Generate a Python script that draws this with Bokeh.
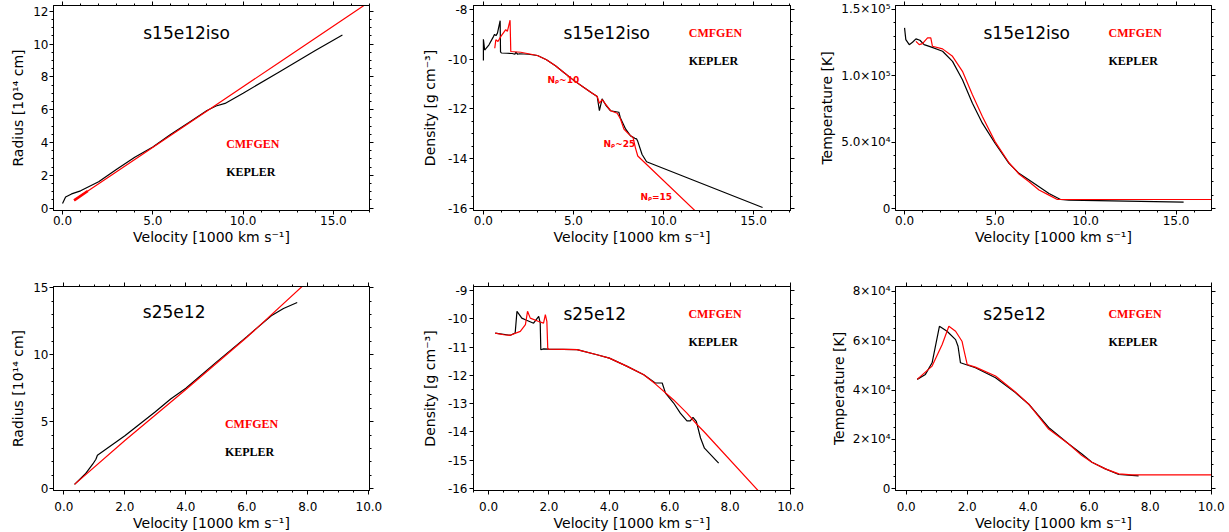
from bokeh.plotting import figure
from bokeh.models import Range1d, SingleIntervalTicker, LinearAxis, PrintfTickFormatter, Label, CustomJSTickFormatter
from bokeh.layouts import row, column
from bokeh.embed import file_html
from bokeh.resources import INLINE

# ---------------- data ----------------
# Panel 1: radius, s15e12iso
rad15_kep_v = [0.0, 0.17, 0.5, 1.0, 2.0, 3.0, 4.0, 5.0, 6.0, 7.0, 8.0, 8.5, 9.0, 10.0, 12.0, 14.0, 15.5]
rad15_kep_r = [0.27, 0.67, 0.86, 1.05, 1.6, 2.36, 3.1, 3.72, 4.5, 5.22, 5.95, 6.22, 6.38, 7.0, 8.3, 9.6, 10.55]
rad15_cmf_v = [0.64, 4.0, 8.0, 12.0, 16.8]
rad15_cmf_r = [0.47, 2.96, 5.92, 8.88, 12.43]
rad15_cmf_thick_v = [0.64, 1.4]
rad15_cmf_thick_r = [0.47, 1.04]

# Panel 2: density, s15e12iso
den15_kep_v = [0.0, 0.0, 0.07, 0.31, 0.55, 0.62, 0.7, 0.78, 0.93, 0.95, 1.0, 1.3, 1.6, 1.75, 1.8, 1.9,
               2.0, 2.5, 3.0, 3.5, 4.0, 4.5, 5.0, 5.5, 6.0, 6.32, 6.44, 6.59, 6.8, 7.06, 7.52, 7.6,
               7.9, 8.17, 8.41, 8.5, 8.57, 8.81, 9.06, 15.5]
den15_kep_d = [-10.05, -9.2, -9.63, -9.42, -9.1, -9.0, -9.05, -8.95, -8.45, -9.7, -9.75, -9.76, -9.77, -9.8, -9.72, -9.8,
               -9.78, -9.8, -9.85, -10.02, -10.26, -10.55, -10.84, -11.1, -11.35, -11.5, -12.07, -11.59, -11.85, -12.07, -12.13, -12.35,
               -12.81, -13.08, -13.18, -13.2, -13.3, -13.83, -14.12, -15.96]
den15_cmf_v = [0.63, 0.69, 0.81, 0.96, 1.24, 1.33, 1.48, 1.52, 2.07, 2.5, 3.0, 3.5, 4.0, 4.5, 5.0, 5.5, 6.0,
               6.32, 6.44, 6.59, 7.06, 7.43, 7.61, 7.8, 8.07, 8.31, 8.44, 8.57, 12.2]
den15_cmf_d = [-9.56, -9.22, -9.29, -9.09, -8.81, -8.88, -8.43, -9.69, -9.72, -9.78, -9.85, -10.02, -10.26, -10.55, -10.84, -11.1, -11.35,
               -11.5, -11.77, -11.62, -12.07, -12.17, -12.4, -12.81, -13.01, -13.15, -13.56, -13.89, -16.4]

# Panel 3: temperature, s15e12iso
tem15_kep_v = [0.0, 0.07, 0.26, 0.44, 0.63, 0.85, 1.08, 1.45, 2.1, 2.65, 3.2, 3.75, 4.3, 5.0, 5.77, 6.32, 6.88,
               7.43, 7.98, 8.62, 9.08, 15.42]
tem15_kep_t = [136100, 127300, 123500, 125300, 127800, 126800, 123500, 121800, 118500, 110900, 97100, 79400, 64300,
               49200, 34000, 26500, 21400, 16400, 11300, 6800, 6300, 4800]
tem15_cmf_v = [0.63, 0.81, 0.99, 1.27, 1.45, 1.54, 2.1, 2.65, 3.2, 3.75, 4.3, 5.0, 5.77, 6.32, 6.88, 7.43, 7.98,
               8.44, 17.5]
tem15_cmf_t = [126000, 123500, 124300, 128600, 128600, 122300, 120300, 114700, 103400, 85700, 69300, 50400, 34500,
               26000, 20200, 13900, 10100, 6800, 6800]

# Panel 4: radius, s25e12
rad25_kep_v = [0.35, 0.7, 0.95, 1.05, 1.1, 2.0, 3.0, 3.5, 4.0, 5.0, 6.0, 6.8, 7.2, 7.65]
rad25_kep_r = [0.33, 1.1, 1.85, 2.2, 2.5, 3.95, 5.75, 6.7, 7.5, 9.45, 11.35, 12.9, 13.45, 13.9]
rad25_cmf_v = [0.35, 2.0, 4.0, 6.0, 8.1]
rad25_cmf_r = [0.33, 3.6, 7.4, 11.3, 15.7]

# Panel 5: density, s25e12
den25_kep_v = [0.22, 0.72, 0.88, 0.94, 1.1, 1.22, 1.49, 1.66, 1.71, 1.73, 1.82, 2.0, 2.93, 3.59, 4.0, 4.59, 5.14,
               5.52, 5.75, 5.86, 6.13, 6.35, 6.57, 6.68, 6.77, 6.88, 7.02, 7.15, 7.62]
den25_kep_d = [-10.5, -10.58, -10.5, -9.73, -9.97, -10.03, -10.15, -9.91, -10.15, -11.09, -11.06, -11.07, -11.09,
               -11.27, -11.39, -11.68, -11.98, -12.27, -12.27, -12.63, -12.98, -13.34, -13.61, -13.61, -13.49, -13.63,
               -14.22, -14.58, -15.11]
den25_cmf_v = [0.22, 0.5, 0.72, 1.05, 1.22, 1.29, 1.38, 1.66, 1.82, 1.88, 1.93, 1.96, 2.0, 2.93, 3.59, 4.0, 4.59,
               5.14, 5.52, 6.13, 6.57, 6.91, 7.13, 9.2]
den25_cmf_d = [-10.5, -10.56, -10.58, -10.44, -10.2, -9.73, -9.97, -10.09, -10.15, -9.85, -10.09, -11.06, -11.07,
               -11.09, -11.27, -11.39, -11.68, -11.98, -12.3, -12.87, -13.34, -13.75, -13.99, -16.4]

# Panel 6: temperature, s25e12
tem25_kep_v = [0.36, 0.63, 0.85, 1.09, 1.34, 1.62, 1.70, 1.78, 2.27, 2.93, 3.58, 4.02, 4.67, 5.33, 5.76, 6.09,
               6.53, 6.97, 7.62]
tem25_kep_t = [44350, 46370, 51070, 65860, 63840, 60480, 57790, 51070, 49060, 45020, 38980, 34270, 24860, 18140,
               14110, 10750, 8060, 5780, 5240]
tem25_cmf_v = [0.36, 0.85, 1.18, 1.40, 1.62, 1.83, 1.89, 2.0, 2.27, 2.93, 3.58, 4.02, 4.67, 5.33, 5.76, 6.09,
               6.53, 6.97, 7.4, 10.5]
tem25_cmf_t = [44350, 49730, 58460, 65860, 63840, 59810, 56450, 50400, 49330, 45700, 39250, 34270, 24190, 18140,
               13440, 10750, 8060, 6050, 5650, 5650]

# tick labels
temp15_ticks = {0: "0", 50000: "5.0×10⁴", 100000: "1.0×10⁵", 150000: "1.5×10⁵"}
temp25_ticks = {0: "0", 20000: "2×10⁴", 40000: "4×10⁴", 60000: "6×10⁴", 80000: "8×10⁴"}

x_title = "Velocity [1000 km s⁻¹]"
names = ["s15e12iso", "s25e12"]

RED = "#ff0000"
FONT = "DejaVu Sans"
MAJ, MIN = 4, 2


def make_fig(xr, yr, borders, fw, fh, xtick, ytick, xfmt, yfmt, ylabel,
             xl_standoff, yl_standoff, xlab_standoff, ylab_standoff, yoverrides=None):
    bl, br, bt, bb = borders
    p = figure(frame_width=fw, frame_height=fh,
               x_range=Range1d(*xr), y_range=Range1d(*yr),
               output_backend="svg", toolbar_location=None,
               min_border_left=bl, min_border_right=br,
               min_border_top=bt, min_border_bottom=bb,
               x_axis_location=None, y_axis_location=None)
    p.grid.visible = False
    p.background_fill_color = "white"
    p.border_fill_color = "white"
    p.outline_line_color = "black"
    p.outline_line_width = 1

    xt = SingleIntervalTicker(interval=xtick[0], num_minor_ticks=xtick[1])
    yt = SingleIntervalTicker(interval=ytick[0], num_minor_ticks=ytick[1])

    def style(ax, hidden=False):
        ax.axis_line_color = "black"
        ax.major_tick_line_color = "black"
        ax.minor_tick_line_color = "black"
        ax.major_tick_in = 0
        ax.major_tick_out = MAJ
        ax.minor_tick_in = 0
        ax.minor_tick_out = MIN
        ax.major_label_text_font = FONT
        ax.major_label_text_font_size = "12px"
        ax.major_label_text_color = "black"
        ax.axis_label_text_font = FONT
        ax.axis_label_text_font_size = "14px"
        ax.axis_label_text_font_style = "normal"
        ax.axis_label_text_color = "black"
        if hidden:
            ax.formatter = CustomJSTickFormatter(code="return ''")
            ax.major_label_standoff = 0
            ax.axis_label = None

    xb = LinearAxis(ticker=xt, formatter=xfmt, axis_label=x_title)
    style(xb)
    xb.major_label_standoff = xl_standoff
    xb.axis_label_standoff = xlab_standoff
    p.add_layout(xb, "below")

    yb = LinearAxis(ticker=yt, formatter=yfmt, axis_label=ylabel)
    style(yb)
    yb.major_label_standoff = yl_standoff
    yb.axis_label_standoff = ylab_standoff
    if yoverrides is not None:
        yb.major_label_overrides = yoverrides
    p.add_layout(yb, "left")

    xa = LinearAxis(ticker=xt)
    style(xa, hidden=True)
    p.add_layout(xa, "above")
    ya = LinearAxis(ticker=yt)
    style(ya, hidden=True)
    p.add_layout(ya, "right")
    return p


def add_labels(p, title_xy, cm_xy, kep_y, title):
    p.add_layout(Label(x=title_xy[0], y=title_xy[1], text=title, text_font=FONT,
                       text_font_size="17px", text_color="black", text_baseline="middle"))
    p.add_layout(Label(x=cm_xy[0], y=cm_xy[1], text="CMFGEN", text_font="Liberation Serif",
                       text_font_size="12px", text_font_style="bold", text_color=RED,
                       text_baseline="middle"))
    p.add_layout(Label(x=cm_xy[0], y=kep_y, text="KEPLER", text_font="Liberation Serif",
                       text_font_size="12px", text_font_style="bold", text_color="black",
                       text_baseline="middle"))


f1 = PrintfTickFormatter(format="%.1f")
fi = PrintfTickFormatter(format="%d")

top_b = [(53, 41, 5, 50), (63, 25, 5, 50), (80, 18, 5, 50)]
bot_b = [(53, 41, 26, 42), (63, 25, 26, 42), (80, 18, 26, 42)]

# ---- top row ----
p1 = make_fig((-0.5, 17.0), (-0.15, 12.35), top_b[0], 316, 205, (5, 5), (2, 4), f1, fi,
              "Radius [10¹⁴ cm]", 1, 1, 1, 4)
p1.line(rad15_kep_v, rad15_kep_r, color="black", line_width=1.2)
p1.line(rad15_cmf_v, rad15_cmf_r, color=RED, line_width=1.2)
p1.line(rad15_cmf_thick_v, rad15_cmf_thick_r, color=RED, line_width=2.6)
add_labels(p1, (4.47, 10.65), (9.06, 3.88), 2.18, names[0])

p2 = make_fig((-0.55, 17.05), (-16.08, -7.84), top_b[1], 317, 205, (5, 5), (2, 4), f1, fi,
              "Density [g cm⁻³]", 1, 2, 1, 7)
p2.line(den15_kep_v, den15_kep_d, color="black", line_width=1.2)
p2.line(den15_cmf_v, den15_cmf_d, color=RED, line_width=1.2)
add_labels(p2, (4.44, -8.93), (11.4, -8.93), -10.07, names[0])
for txt, xx, yy in [("Nᵨ~10", 3.56, -10.85), ("Nᵨ~25", 6.67, -13.4), ("Nᵨ=15", 8.72, -15.52)]:
    p2.add_layout(Label(x=xx, y=yy, text=txt, text_font=FONT, text_font_size="9px",
                        text_font_style="bold", text_color=RED, text_baseline="middle"))

p3 = make_fig((-0.5, 16.96), (-1500, 153000), top_b[2], 316, 205, (5, 5), (50000, 5), f1, fi,
              "Temperature [K]", 1, 1, 1, 3, yoverrides=temp15_ticks)
p3.line(tem15_kep_v, tem15_kep_t, color="black", line_width=1.2)
p3.line(tem15_cmf_v, tem15_cmf_t, color=RED, line_width=1.2)
add_labels(p3, (4.36, 132600), (11.27, 132600), 111400, names[0])

# ---- bottom row ----
p4 = make_fig((-0.34, 10.02), (-0.13, 15.09), bot_b[0], 316, 204, (2, 4), (5, 5), f1, fi,
              "Radius [10¹⁴ cm]", 7, 1, 1, 4)
p4.line(rad25_kep_v, rad25_kep_r, color="black", line_width=1.2)
p4.line(rad25_cmf_v, rad25_cmf_r, color=RED, line_width=1.2)
add_labels(p4, (2.59, 13.2), (5.28, 4.85), 2.74, names[1])

p5 = make_fig((-0.5, 10.0), (-16.08, -8.85), bot_b[1], 317, 204, (2, 4), (1, 2), f1, fi,
              "Density [g cm⁻³]", 7, 2, 1, 7)
p5.line(den25_kep_v, den25_kep_d, color="black", line_width=1.2)
p5.line(den25_cmf_v, den25_cmf_d, color=RED, line_width=1.2)
add_labels(p5, (2.48, -9.84), (6.62, -9.84), -10.83, names[1])

p6 = make_fig((-0.35, 10.01), (-700, 82000), bot_b[2], 316, 204, (2, 4), (20000, 4), f1, fi,
              "Temperature [K]", 7, 1, 1, 3, yoverrides=temp25_ticks)
p6.line(tem25_kep_v, tem25_kep_t, color="black", line_width=1.2)
p6.line(tem25_cmf_v, tem25_cmf_t, color=RED, line_width=1.2)
add_labels(p6, (2.53, 70700), (6.63, 70700), 59400, names[1])

layout = column(row(p1, p2, p3), row(p4, p5, p6))
open("out.html", "w").write(file_html(layout, INLINE))
